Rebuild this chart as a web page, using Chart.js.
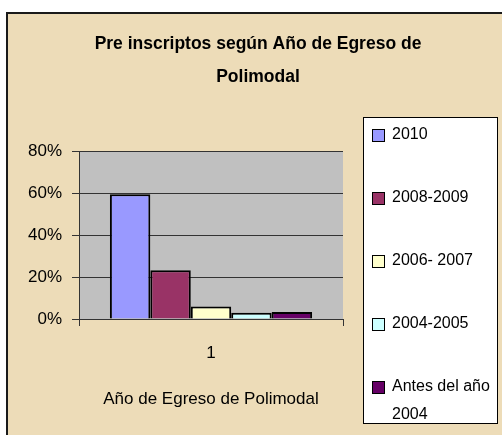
<!DOCTYPE html>
<html>
<head>
<meta charset="utf-8">
<script src="https://cdn.jsdelivr.net/npm/chart.js"></script>
<style>
    html, body { margin: 0; padding: 0; background: #fff; }
    canvas { display: block; }
</style>
</head>
<body>
<canvas id="grafico" width="502" height="435"></canvas>
<script>
// Datos del gráfico
const categorias = ["1"];
const series = ["2010", "2008-2009", "2006- 2007", "2004-2005", "Antes del año\n2004"];
const valores = [59.4, 23.2, 5.9, 3.0, 3.3];
const colores = ["#9999ff", "#993366", "#ffffcc", "#ccffff", "#660066"];
const ticksY = [0, 20, 40, 60, 80];

const titulo = ["Pre inscriptos según Año de Egreso de", "Polimodal"];
const tituloEjeX = "Año de Egreso de Polimodal";

Chart.defaults.font.family = "'Liberation Sans', Arial, sans-serif";
Chart.defaults.color = "#000";

// Fondo, marco y área gris del gráfico
const fondo = {
    id: "fondo",
    beforeDraw(chart) {
        const { ctx, width, height, chartArea } = chart;
        ctx.save();
        ctx.fillStyle = "#fff";
        ctx.fillRect(0, 0, width, height);
        ctx.fillStyle = "#eddcb8";
        ctx.fillRect(7, 13, width, height);
        ctx.strokeStyle = "#1a1a1a";
        ctx.lineWidth = 2;
        ctx.beginPath();
        ctx.moveTo(7, height);
        ctx.lineTo(7, 13);
        ctx.lineTo(width, 13);
        ctx.stroke();
        ctx.fillStyle = "#c0c0c0";
        ctx.fillRect(chartArea.left, chartArea.top, chartArea.right - chartArea.left, chartArea.bottom - chartArea.top);
        ctx.restore();
    }
};

// Leyenda con recuadro blanco
const leyenda = {
    id: "leyenda",
    afterDraw(chart) {
        const ctx = chart.ctx;
        ctx.save();
        ctx.fillStyle = "#fff";
        ctx.strokeStyle = "#000";
        ctx.lineWidth = 1;
        ctx.fillRect(363.5, 117.5, 134, 306);
        ctx.strokeRect(363.5, 117.5, 134, 306);
        ctx.font = "16px 'Liberation Sans', Arial, sans-serif";
        ctx.textBaseline = "middle";
        chart.data.datasets.forEach((ds, i) => {
            const y = 135 + i * 63;
            ctx.fillStyle = ds.backgroundColor;
            ctx.fillRect(372.5, y - 5.5, 12, 12);
            ctx.strokeRect(372.5, y - 5.5, 12, 12);
            ctx.fillStyle = "#000";
            ds.label.split("\n").forEach((linea, j) => {
                ctx.fillText(linea, 392, y + j * 28);
            });
        });
        ctx.restore();
    }
};

const ctx = document.getElementById("grafico").getContext("2d");
new Chart(ctx, {
    type: "bar",
    data: {
        labels: categorias,
        datasets: series.map((s, i) => ({
            label: s,
            data: [valores[i]],
            backgroundColor: colores[i],
            borderColor: "#000",
            borderWidth: 2,
            barPercentage: 1,
            categoryPercentage: 0.766
        }))
    },
    options: {
        responsive: false,
        animation: false,
        devicePixelRatio: 1,
        layout: { padding: { left: 14, right: 0, top: 0, bottom: 0 } },
        plugins: {
            legend: { display: false },
            tooltip: { enabled: false },
            title: {
                display: true,
                text: titulo,
                color: "#000",
                font: { size: 17.5, weight: "bold", lineHeight: "33px" },
                padding: { top: 27.5, bottom: 57.5 }
            }
        },
        scales: {
            x: {
                ticks: { font: { size: 17 }, color: "#000", padding: 17 },
                grid: { drawOnChartArea: false, drawTicks: true, tickLength: 7, color: "#333", offset: true },
                border: { color: "#333" },
                title: {
                    display: true,
                    text: tituloEjeX,
                    color: "#000",
                    font: { size: 17 },
                    padding: { top: 0, bottom: 25 }
                },
                afterFit: s => { s.height = 116; }
            },
            y: {
                min: 0,
                max: 80,
                afterBuildTicks: s => { s.ticks = ticksY.map(v => ({ value: v })); },
                ticks: { font: { size: 17 }, color: "#000", padding: 10, callback: v => v + "%" },
                grid: { color: "#333", lineWidth: 1, tickLength: 7 },
                border: { color: "#333" },
                afterFit: s => { s.width = 65; }
            },
            y2: {
                position: "right",
                grid: { display: false },
                ticks: { display: false },
                border: { display: false },
                afterFit: s => { s.width = 159; }
            }
        }
    },
    plugins: [fondo, leyenda]
});
</script>
</body>
</html>
